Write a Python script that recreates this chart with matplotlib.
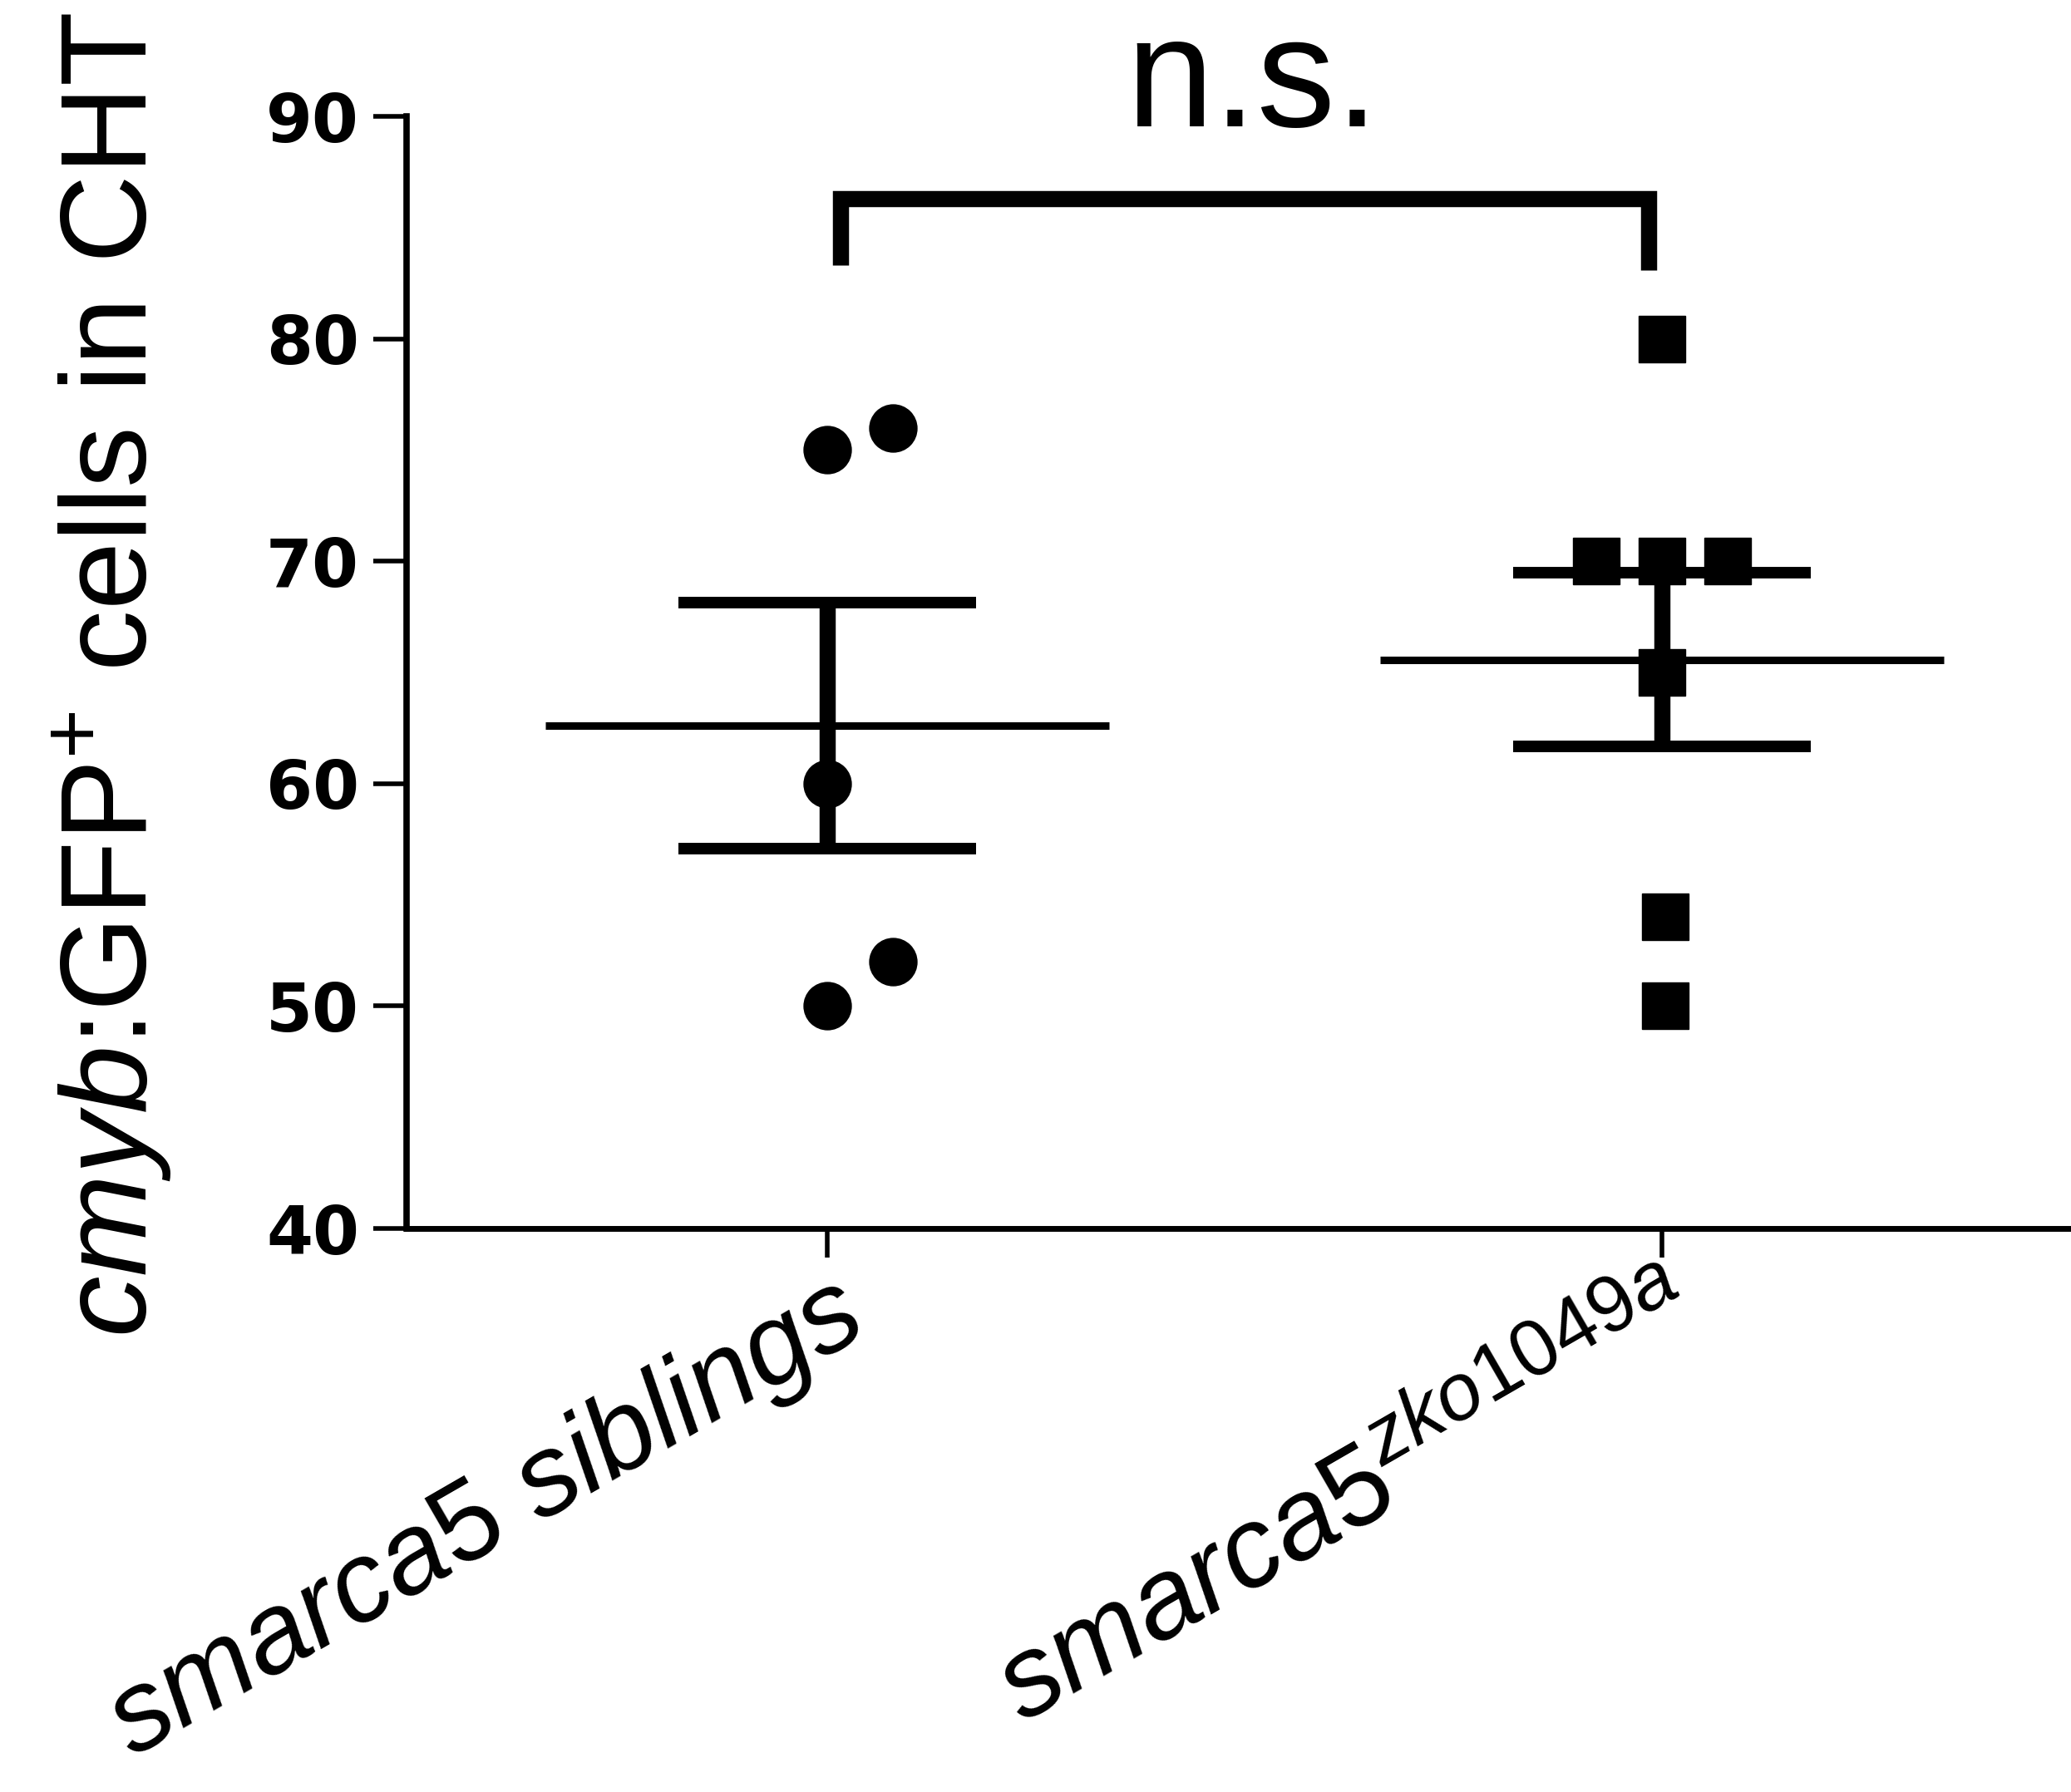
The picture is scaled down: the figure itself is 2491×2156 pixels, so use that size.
import numpy as np
import matplotlib
matplotlib.use("Agg")
import matplotlib.pyplot as plt
from matplotlib.transforms import ScaledTranslation

# ---- data ----
categories = [r'$\mathit{smarca5\ siblings}$', r'$\mathit{smarca5}^{\mathit{zko1049a}}$']
siblings = [75, 76, 60, 52, 50]
mutants = [80, 70, 70, 70, 65, 54, 50]
yticks = [40, 50, 60, 70, 80, 90]
ylabel = r'$\mathit{cmyb}$:GFP$^{+}$ cells in CHT'
sig_text = 'n.s.'

# ---- style ----
plt.rcParams['font.family'] = ['Liberation Sans', 'DejaVu Sans']
plt.rcParams['mathtext.fontset'] = 'custom'
plt.rcParams['mathtext.rm'] = 'Liberation Sans'
plt.rcParams['mathtext.it'] = 'Liberation Sans:italic'
plt.rcParams['mathtext.bf'] = 'Liberation Sans:bold'

W, H = 2491, 2156
fig = plt.figure(figsize=(W / 100, H / 100), dpi=100)
ax_left, ax_right = 489 / W, 1.0
ax_bot, ax_top = (H - 1478) / H, (H - 140) / H
ax = fig.add_axes([ax_left, ax_bot, ax_right - ax_left, ax_top - ax_bot])

sib_jit = [0, 0.079, 0, 0.079, 0]
mut_jit = [0, -0.079, 0, 0.079, 0, 0.004, 0.004]
groups = [(1, siblings, sib_jit, 'o'), (2, mutants, mut_jit, 's')]

for xc, vals, jit, mk in groups:
    vals = np.asarray(vals, dtype=float)
    m = vals.mean()
    sem = vals.std(ddof=1) / np.sqrt(len(vals))
    ax.plot(xc + np.asarray(jit), vals, linestyle='none', marker=mk,
            markersize=41, color='black', zorder=3, clip_on=False)
    # mean line
    ax.plot([xc - 0.338, xc + 0.338], [m, m], color='black', lw=6.5,
            solid_capstyle='butt', zorder=2)
    # SEM
    ax.plot([xc, xc], [m - sem, m + sem], color='black', lw=14,
            solid_capstyle='butt', zorder=2)
    for yv in (m - sem, m + sem):
        ax.plot([xc - 0.178, xc + 0.178], [yv, yv], color='black', lw=10,
                solid_capstyle='butt', zorder=2)

# significance bracket
ax.plot([1.016, 1.016, 1.984, 1.984], [83.3, 86.3, 86.3, 83.1], color='black',
        lw=14, solid_joinstyle='miter', solid_capstyle='butt', clip_on=False)
ax.text(1.51, 89.55, sig_text, ha='center', va='baseline', fontsize=136,
        clip_on=False)

ax.set_xlim(0.496, 2.49)
ax.set_ylim(40, 90)
ax.set_yticks(yticks)
ax.set_yticklabels([str(t) for t in yticks], fontsize=58, fontweight='bold',
                   family='DejaVu Sans')
ax.set_xticks([1, 2])
ax.set_xticklabels(categories, fontsize=99, rotation=30, ha='right',
                   va='top', rotation_mode='anchor')
off = ScaledTranslation(28 / 100, 12 / 100, fig.dpi_scale_trans)
for lab in ax.get_xticklabels():
    lab.set_transform(lab.get_transform() + off)

ax.tick_params(axis='y', length=29, width=4, pad=12, color='black')
ax.tick_params(axis='x', length=25, width=4, pad=2, color='black')
for s in ('top', 'right'):
    ax.spines[s].set_visible(False)
ax.spines['left'].set_linewidth(5.5)
ax.spines['bottom'].set_linewidth(5)

fig.text(178 / W, 1 - 15 / H, ylabel, rotation=90, ha='right', va='baseline',
         rotation_mode='anchor', fontsize=106)

fig.savefig('out.png', dpi=100, facecolor='white')
